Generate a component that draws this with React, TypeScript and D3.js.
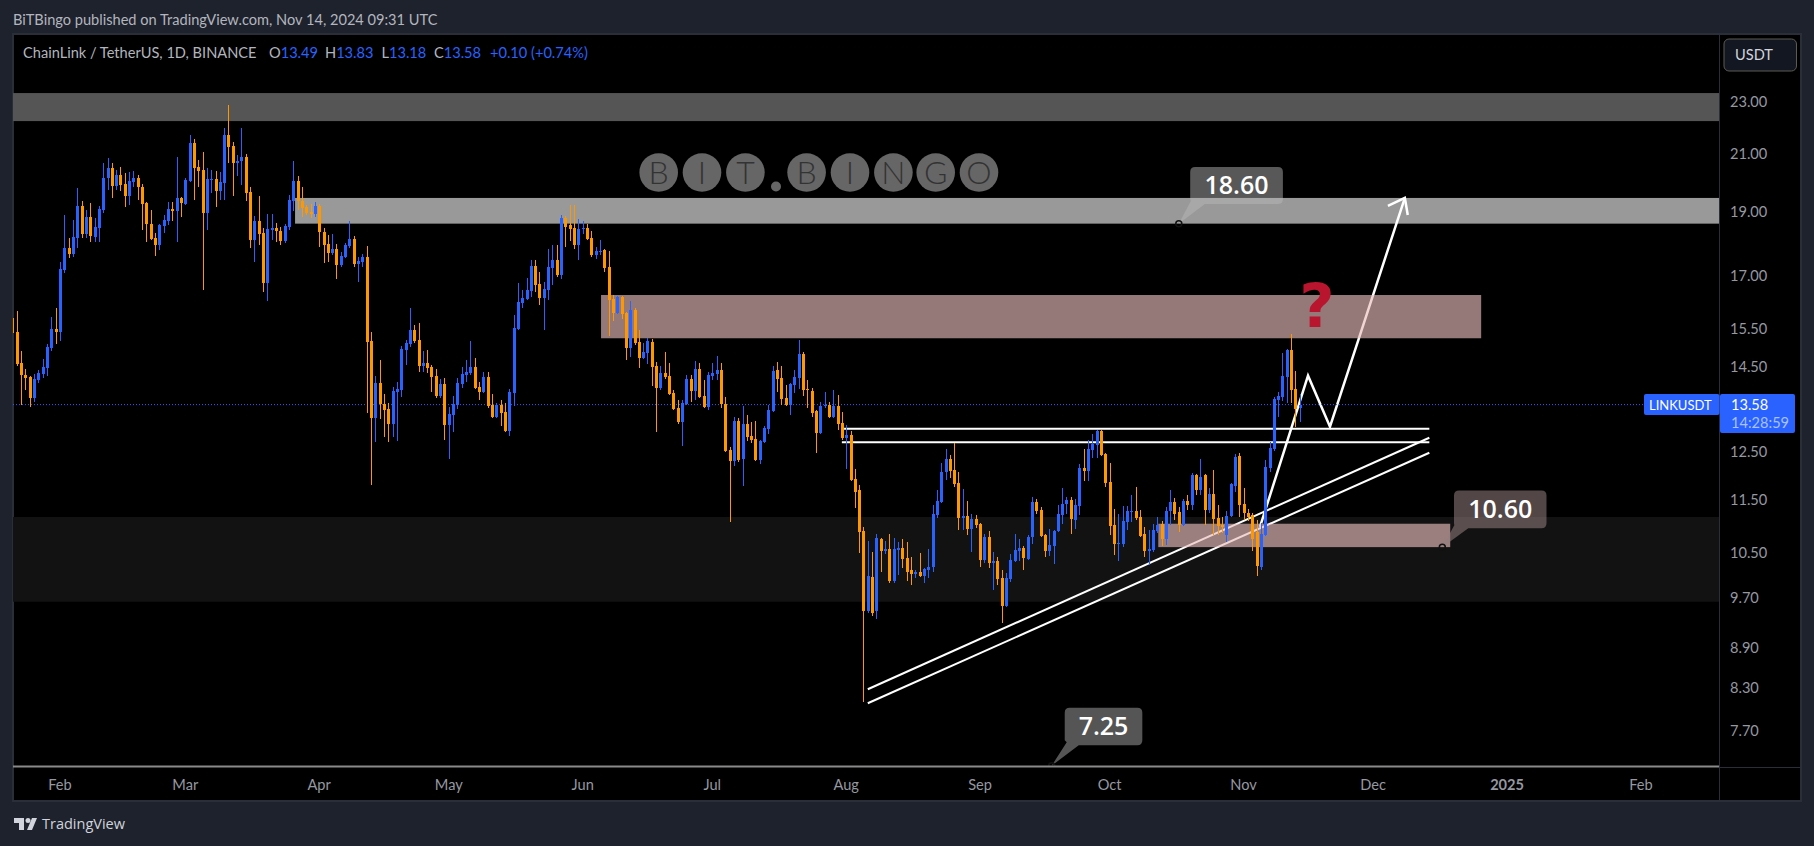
// App.tsx
// LINK/USDT daily chart (TradingView dark layout) with the drawings from the published idea.
import React from 'react';
import * as d3 from 'd3';

type Row = [number, number, number, number]; // open, high, low, close

const jan: Row[] = [
  [15.79,15.93,15.33,15.38],[15.41,15.98,14.52,14.57],[14.60,14.91,13.57,14.29],[14.29,14.45,13.93,14.22],
  [14.24,14.27,13.52,13.74],[13.74,14.32,13.64,14.19],[14.17,14.42,14.10,14.34],[14.32,14.70,14.22,14.50],
  [14.47,15.09,14.27,15.02],[14.99,15.81,14.91,15.49],[15.49,16.06,15.09,15.41],
];
const feb: Row[] = [
  [15.41,17.40,15.17,17.19],[17.16,18.87,17.07,17.83],[17.83,18.13,17.52,17.65],[17.65,18.71,17.55,18.16],
  [18.13,19.78,17.83,19.17],[19.17,19.34,18.13,18.26],[18.26,19.04,18.13,18.81],[18.81,19.27,18.01,18.20],
  [18.16,18.77,18.01,18.48],[18.45,19.17,18.01,19.07],[19.04,20.66,18.94,20.13],[20.13,20.84,19.71,20.48],
  [20.48,20.66,19.44,19.85],[19.85,20.41,19.71,20.23],[20.23,20.52,19.68,19.88],[19.92,20.30,19.14,19.51],
  [19.51,20.34,19.20,20.03],[19.99,20.37,19.81,20.13],[20.13,20.23,19.37,19.81],[19.81,19.92,18.39,19.24],
  [19.27,19.30,18.01,18.58],[18.58,19.04,18.07,18.10],[18.13,18.29,17.58,17.92],[17.92,18.58,17.77,18.55],
  [18.52,18.87,18.29,18.71],[18.68,19.30,18.55,19.07],[19.07,19.30,18.68,19.01],[19.01,20.87,18.01,19.44],
  [19.44,19.47,18.81,19.27],
];
const mar: Row[] = [
  [19.24,20.13,19.21,20.06],[20.03,21.69,19.99,21.39],[21.39,21.54,19.37,20.48],[20.52,20.77,19.81,20.37],
  [20.41,21.06,16.57,18.94],[18.94,20.48,18.39,20.10],[20.06,20.41,19.61,20.10],[20.10,20.37,19.14,19.68],
  [19.68,20.34,19.37,19.99],[19.95,21.96,19.37,21.69],[21.69,22.86,20.66,21.24],[21.28,21.43,19.51,20.66],
  [20.66,20.95,20.20,20.73],[20.73,21.96,19.88,20.87],[20.87,20.99,19.34,19.61],[19.64,19.81,17.83,18.07],
  [18.07,18.84,17.40,18.68],[18.68,19.51,17.92,18.26],[18.29,18.45,16.51,16.77],[16.77,18.90,16.26,18.42],
  [18.39,18.90,18.07,18.45],[18.45,18.62,18.01,18.36],[18.36,18.48,17.92,18.04],[18.04,18.58,17.98,18.52],
  [18.48,19.54,18.39,19.37],[19.34,20.73,19.01,20.03],[20.03,20.20,19.04,19.34],[19.34,19.81,18.81,19.11],
  [19.14,19.20,18.87,18.94],[18.97,19.24,18.77,18.90],[18.90,19.30,18.81,19.17],
];
const apr: Row[] = [
  [19.17,19.24,17.86,18.32],[18.32,18.45,17.37,17.92],[17.95,18.23,17.40,17.68],[17.68,18.26,17.62,17.80],
  [17.80,17.95,16.89,17.31],[17.31,17.71,17.25,17.58],[17.55,17.98,17.52,17.92],[17.89,18.68,17.83,18.10],
  [18.10,18.20,17.25,17.34],[17.34,17.55,16.80,17.43],[17.40,17.65,17.25,17.55],[17.55,17.89,13.38,15.15],
  [15.17,15.41,11.81,13.27],[13.27,14.27,12.72,14.10],[14.10,14.67,13.24,13.59],[13.59,13.83,12.84,13.45],
  [13.48,13.62,12.72,13.13],[13.13,14.00,12.84,13.90],[13.88,14.12,12.75,13.95],[13.93,15.04,13.76,14.96],
  [14.94,15.20,14.55,15.12],[15.09,16.06,15.02,15.46],[15.46,15.60,15.12,15.17],[15.20,15.65,14.37,14.52],
  [14.52,14.91,14.37,14.60],[14.60,14.94,14.34,14.47],[14.50,14.55,13.88,14.24],[14.27,14.45,13.74,13.78],
  [13.78,14.19,13.74,14.07],[14.07,14.22,12.77,13.11],
];
const may: Row[] = [
  [13.11,13.52,12.35,13.36],[13.34,13.78,12.95,13.59],[13.57,14.22,13.48,14.10],[14.07,14.50,13.98,14.32],
  [14.29,14.67,14.12,14.37],[14.34,15.17,14.29,14.50],[14.50,14.73,13.95,13.98],[14.00,14.12,13.69,13.88],
  [13.88,14.37,13.86,14.24],[14.24,14.37,13.50,13.55],[13.57,13.83,13.27,13.29],[13.29,13.62,13.27,13.57],
  [13.57,13.69,13.08,13.38],[13.41,13.62,12.95,12.97],[12.97,13.95,12.86,13.88],[13.86,15.87,13.55,15.52],
  [15.49,16.77,15.46,16.23],[16.20,16.57,16.06,16.34],[16.31,16.92,16.28,16.57],[16.54,17.46,16.37,17.28],
  [17.28,17.46,16.51,16.71],[16.74,17.10,16.14,16.34],[16.34,16.80,15.46,16.60],[16.57,17.80,16.28,17.25],
  [17.22,17.92,16.71,17.46],[17.46,17.92,16.95,17.01],[17.01,18.87,16.89,18.77],[18.77,18.84,17.86,18.48],
  [18.55,19.20,18.04,18.42],[18.45,19.20,17.80,17.92],[17.92,18.74,17.46,18.42],
];
const jun: Row[] = [
  [18.42,18.68,18.26,18.45],[18.45,18.58,18.07,18.10],[18.13,18.36,17.55,17.62],[17.62,17.86,17.49,17.74],
  [17.71,18.07,17.62,17.74],[17.77,17.80,17.10,17.22],[17.25,17.74,15.31,16.28],[16.31,16.43,15.70,15.92],
  [15.92,16.40,15.90,16.37],[16.37,16.40,15.76,15.90],[15.92,15.95,14.67,14.99],[14.99,16.26,14.75,16.01],
  [16.01,16.06,15.07,15.12],[15.15,15.46,14.47,14.73],[14.73,15.12,14.70,14.88],[14.86,15.25,14.57,15.17],
  [15.15,15.22,14.02,14.50],[14.52,14.62,12.95,13.98],[13.98,14.52,13.93,14.34],[14.34,14.88,14.19,14.24],
  [14.27,14.60,13.81,13.83],[13.86,13.93,13.45,13.48],[13.50,13.69,13.13,13.18],[13.18,13.69,12.64,13.62],
  [13.59,14.29,13.57,14.19],[14.19,14.29,13.64,13.90],[13.90,14.65,13.69,14.45],[14.45,14.60,13.74,13.76],
  [13.78,14.17,13.50,13.52],[13.52,14.37,13.45,14.29],
];
const jul: Row[] = [
  [14.27,14.60,14.17,14.34],[14.32,14.78,14.17,14.42],[14.42,14.60,13.50,13.59],[13.59,13.76,12.51,12.53],
  [12.55,12.62,11.07,12.31],[12.31,13.29,12.20,13.20],[13.20,13.27,12.29,12.33],[12.35,13.55,11.79,13.13],
  [13.13,13.34,12.75,12.84],[12.86,13.18,12.71,12.77],[12.79,13.20,12.31,12.33],[12.33,12.77,12.24,12.75],
  [12.72,13.08,12.71,13.04],[13.01,13.57,12.90,13.45],[13.43,14.52,13.41,14.39],[14.42,14.62,13.88,14.19],
  [14.22,14.52,13.57,13.71],[13.74,14.05,13.55,13.57],[13.57,14.09,13.34,14.07],[14.05,14.42,13.86,14.24],
  [14.22,15.20,13.95,14.83],[14.83,14.88,13.78,13.93],[13.95,14.17,13.50,13.93],[13.90,13.98,13.29,13.38],
  [13.43,13.45,12.48,12.92],[12.92,13.64,12.90,13.55],[13.55,13.88,13.50,13.57],[13.57,13.64,13.27,13.29],
  [13.29,13.93,13.27,13.55],[13.55,13.81,12.99,13.13],[13.15,13.41,12.77,12.81],
];
const aug: Row[] = [
  [12.81,13.11,12.14,12.88],[12.88,12.97,11.89,11.91],[11.93,12.14,11.35,11.67],[11.71,11.81,10.49,10.88],
  [10.90,10.97,8.10,9.48],[9.48,10.71,9.46,10.08],[10.06,10.51,9.40,9.46],[9.48,10.84,9.36,10.77],
  [10.75,10.77,10.16,10.53],[10.53,10.71,10.47,10.57],[10.57,10.84,9.96,9.99],[9.99,10.77,9.96,10.57],
  [10.55,10.70,10.10,10.58],[10.58,10.75,10.22,10.38],[10.40,10.70,9.99,10.16],[10.18,10.42,9.92,10.11],
  [10.11,10.18,10.04,10.16],[10.16,10.49,10.06,10.08],[10.08,10.22,9.96,10.20],[10.18,10.57,10.04,10.24],
  [10.24,11.40,10.15,11.23],[11.21,11.71,11.15,11.48],[11.46,12.26,11.44,12.08],[12.08,12.57,11.91,12.35],
  [12.35,12.44,11.95,12.10],[12.12,12.71,11.77,11.83],[11.85,12.07,10.92,11.15],[11.15,11.73,10.92,11.19],
  [11.19,11.48,10.83,10.94],[10.94,11.23,10.51,11.13],[11.13,11.21,10.96,11.02],
];
const sep: Row[] = [
  [11.04,11.06,10.24,10.36],[10.36,10.84,10.31,10.79],[10.79,10.90,10.22,10.31],[10.31,10.51,9.84,10.35],
  [10.35,10.42,9.92,10.03],[10.04,10.18,9.29,9.57],[9.57,10.13,9.55,10.04],[10.03,10.47,9.98,10.36],
  [10.35,10.84,10.33,10.55],[10.53,10.75,10.35,10.58],[10.58,10.62,10.18,10.40],[10.38,10.83,10.36,10.79],
  [10.79,11.56,10.66,11.46],[11.46,11.52,11.23,11.29],[11.31,11.36,10.79,10.81],[10.83,10.84,10.42,10.53],
  [10.53,10.94,10.44,10.64],[10.62,10.92,10.29,10.90],[10.90,11.40,10.88,11.23],[11.21,11.75,11.04,11.42],
  [11.42,11.56,11.23,11.50],[11.50,11.56,10.84,11.13],[11.11,11.52,10.94,11.40],[11.38,12.24,11.21,12.16],
  [12.16,12.57,11.89,12.10],[12.10,12.77,11.89,12.57],[12.55,12.90,12.37,12.68],[12.66,12.99,12.37,12.97],
  [12.97,12.99,12.42,12.44],[12.46,12.48,11.77,11.85],
];
const oct: Row[] = [
  [11.87,12.27,10.83,11.00],[11.02,11.33,10.46,10.66],[10.66,11.23,10.35,10.68],[10.66,11.38,10.60,11.09],
  [11.07,11.38,10.92,11.29],[11.27,11.60,11.07,11.29],[11.29,11.77,11.11,11.15],[11.17,11.31,10.79,10.81],
  [10.84,10.97,10.42,10.53],[10.53,10.92,10.27,10.57],[10.55,11.04,10.51,10.92],[10.90,11.17,10.87,11.02],
  [11.04,11.09,10.62,10.75],[10.75,11.36,10.64,11.29],[11.29,11.71,11.02,11.46],[11.46,11.54,11.11,11.23],
  [11.27,11.36,10.88,11.02],[11.02,11.52,11.00,11.48],[11.48,11.60,11.31,11.40],[11.40,12.05,11.31,12.01],
  [12.01,12.03,11.60,11.71],[11.71,12.35,11.60,11.97],[12.01,12.03,11.02,11.31],[11.31,11.75,11.25,11.62],
  [11.62,12.12,10.83,11.13],[11.15,11.40,10.83,11.00],[11.02,11.17,10.87,10.97],[10.83,11.29,10.70,11.19],
  [11.19,11.85,11.17,11.83],[11.79,12.46,11.67,12.39],[12.42,12.48,11.17,11.40],
];
const nov: Row[] = [
  [11.42,11.75,11.11,11.25],[11.25,11.33,11.09,11.17],[11.21,11.25,10.53,10.75],[10.88,11.11,10.08,10.26],
  [10.24,11.06,10.18,10.84],[10.83,12.33,10.81,12.18],[12.16,12.72,12.07,12.59],[12.57,13.76,12.53,13.71],
  [13.69,13.88,13.29,13.78],[13.76,14.86,13.66,14.27],[14.24,14.96,13.62,14.94],[14.94,15.36,13.62,13.93],
  [13.95,14.39,13.06,13.48],[13.49,13.83,13.18,13.58],
];

const firstDay = new Date('2024-01-21T00:00:00Z');
const lastPrice = 13.58;

const priceTicks = [23, 21, 19, 17, 15.5, 14.5, 12.5, 11.5, 10.5, 9.7, 8.9, 8.3, 7.7];
const timeTicks = ['2024-02-01', '2024-03-01', '2024-04-01', '2024-05-01', '2024-06-01', '2024-07-01', '2024-08-01', '2024-09-01', '2024-10-01', '2024-11-01', '2024-12-01', '2025-01-01', '2025-02-01'];
const timeLabels = ['Feb', 'Mar', 'Apr', 'May', 'Jun', 'Jul', 'Aug', 'Sep', 'Oct', 'Nov', 'Dec', '2025', 'Feb'];

// drawn zones: upper and lower price, with their start and end where they have one
const bandDark: [number, number] = [11.17, 9.64];
const bandTop: [number, number] = [23.34, 22.23];
const zoneGray: [string, number, number] = ['2024-03-26T10:00', 19.45, 18.6];
const zoneUpper: [string, string, number, number] = ['2024-06-05T06:00', '2024-12-26', 16.43, 15.24];
const zoneLower: [string, string, number, number] = ['2024-10-12T06:00', '2024-12-18T20:00', 11.04, 10.6];

type Pt = [string, number];
const resistanceTop: Pt[] = [['2024-07-31T12:00', 13.02], ['2024-12-14', 13.02]];
const resistanceLow: Pt[] = [['2024-07-31', 12.72], ['2024-12-14', 12.72]];
const trendTop: Pt[] = [['2024-08-06', 8.28], ['2024-12-14', 12.82]];
const trendLow: Pt[] = [['2024-08-06', 8.08], ['2024-12-14', 12.49]];
const projection: Pt[] = [['2024-11-04T19:00', 10.98], ['2024-11-15T22:00', 14.28], ['2024-11-21', 13.07], ['2024-12-08T08:00', 19.45]];
const projectionHead: Pt[] = [['2024-12-04T10:00', 19.18], ['2024-12-08T08:00', 19.45], ['2024-12-09', 18.88]];

const watermark = ['B', 'I', 'T', '.', 'B', 'I', 'N', 'G', 'O'];

const FONT = "Lato, 'Open Sans', sans-serif";
const LABEL_FONT = "'Open Sans', 'Noto Sans', sans-serif";
const UP = '#2962ff';
const DOWN = '#ff9800';
const BORDER = '#2a2e39';

const candles = [jan, feb, mar, apr, may, jun, jul, aug, sep, oct, nov].flat().map((r, i) => ({
  date: d3.utcDay.offset(firstDay, i),
  open: r[0],
  high: r[1],
  low: r[2],
  close: r[3],
}));

const parse = (s: string) => new Date(s.length > 10 ? s + ':00Z' : s + 'T00:00:00Z');

const xScale = d3.scaleUtc().domain([parse('2024-02-01'), parse('2025-02-01')]).range([60, 1641]);
const yScale = d3.scaleLog().domain([23, 7.7]).range([101.5, 731]);

const pointLine = d3.line<Pt>().x((d) => xScale(parse(d[0]))).y((d) => yScale(d[1]));

const PLOT = { left: 13, right: 1719, top: 34, bottom: 767 };

const Bubble: React.FC<{ date: string; price: number; text: string; fill: string; dx: number; w: number; top: number; h: number; tail: [number, number] }> = ({ date, price, text, fill, dx, w, top, h, tail }) => {
  const ax = xScale(parse(date));
  const ay = yScale(price);
  const x0 = ax + dx;
  const y0 = ay + top;
  const r = 5;
  const p = d3.path();
  p.moveTo(x0 + r, y0);
  p.lineTo(x0 + w - r, y0);
  p.quadraticCurveTo(x0 + w, y0, x0 + w, y0 + r);
  p.lineTo(x0 + w, y0 + h - r);
  p.quadraticCurveTo(x0 + w, y0 + h, x0 + w - r, y0 + h);
  p.lineTo(ax + tail[1], y0 + h);
  p.lineTo(ax, ay);
  p.lineTo(ax + tail[0], y0 + h - 3);
  p.lineTo(x0, y0 + h - r);
  p.lineTo(x0, y0 + r);
  p.quadraticCurveTo(x0, y0, x0 + r, y0);
  p.closePath();
  return (
    <g>
      <path d={p.toString()} fill={fill} />
      <circle cx={ax} cy={ay} r={3} fill="none" stroke="#111" strokeWidth={1.5} />
      <text x={x0 + w / 2} y={y0 + h / 2} dy="0.35em" textAnchor="middle" fontFamily={LABEL_FONT} fontWeight={600} fontSize={25} fill="#fff">
        {text}
      </text>
    </g>
  );
};

export default function App() {
  const right = PLOT.right;
  const lastY = yScale(lastPrice);
  const circleX = [658.7, 702, 745.4, 776, 806.6, 850, 893.4, 935.7, 979];

  return (
    <svg width={1814} height={846} style={{ position: 'absolute', left: 0, top: 0, display: 'block' }} fontFamily={FONT}>
      <rect width={1814} height={846} fill="#1e222d" />
      <rect x={PLOT.left} y={PLOT.top} width={1801 - PLOT.left} height={801 - PLOT.top} fill="#000" stroke={BORDER} strokeWidth={2} />

      <defs>
        <clipPath id="pane">
          <rect x={PLOT.left} y={PLOT.top} width={right - PLOT.left} height={PLOT.bottom - PLOT.top} />
        </clipPath>
      </defs>

      <text x={13} y={20} dy="0.35em" fontSize={14.6} fill="#b2b5be">BiTBingo published on TradingView.com, Nov 14, 2024 09:31 UTC</text>

      <g clipPath="url(#pane)">
        <rect x={PLOT.left} y={yScale(bandDark[0])} width={right - PLOT.left} height={yScale(bandDark[1]) - yScale(bandDark[0])} fill="#121212" />
        <rect x={PLOT.left} y={yScale(bandTop[0])} width={right - PLOT.left} height={yScale(bandTop[1]) - yScale(bandTop[0])} fill="#555555" />
        <rect x={xScale(parse(zoneGray[0]))} y={yScale(zoneGray[1])} width={right - xScale(parse(zoneGray[0]))} height={yScale(zoneGray[2]) - yScale(zoneGray[1])} fill="#999999" />

        {/* watermark */}
        {watermark.map((ch, i) =>
          ch === '.' ? (
            <circle key={i} cx={circleX[i]} cy={186.5} r={5} fill="#666" />
          ) : (
            <g key={i}>
              <circle cx={circleX[i]} cy={172.5} r={19.3} fill="#666" />
              <text x={circleX[i]} y={172.5} dy="0.36em" textAnchor="middle" fontFamily="Lato, sans-serif" fontWeight={300} fontSize={32} fill="#333">{ch}</text>
            </g>
          ),
        )}

        {/* white drawings sit under the tinted zones */}
        {[resistanceTop, resistanceLow, trendTop, trendLow].map((pts, i) => (
          <path key={i} d={pointLine(pts) || ''} fill="none" stroke="#fff" strokeWidth={2} />
        ))}
        <path d={pointLine(projection) || ''} fill="none" stroke="#fff" strokeWidth={2.5} strokeLinejoin="miter" />
        <path d={pointLine(projectionHead) || ''} fill="none" stroke="#fff" strokeWidth={2.5} />

        {[zoneUpper, zoneLower].map((z, i) => (
          <rect
            key={i}
            x={xScale(parse(z[0]))}
            y={yScale(z[2])}
            width={xScale(parse(z[1])) - xScale(parse(z[0]))}
            height={yScale(z[3]) - yScale(z[2])}
            fill="rgb(233,190,190)"
            fillOpacity={0.64}
          />
        ))}

        <line x1={PLOT.left} x2={1644} y1={lastY} y2={lastY} stroke={UP} strokeWidth={1} strokeDasharray="1 2" />

        {candles.map((c, i) => {
          const x = Math.round(xScale(c.date));
          const color = c.close >= c.open ? UP : DOWN;
          const top = Math.round(yScale(Math.max(c.open, c.close)));
          const bottom = Math.round(yScale(Math.min(c.open, c.close)));
          const wickTop = Math.round(yScale(c.high));
          const wickBottom = Math.round(yScale(c.low));
          return (
            <g key={i} shapeRendering="crispEdges">
              <rect x={x} width={1} y={wickTop} height={wickBottom - wickTop} fill={color} />
              <rect x={x - 1} width={3} y={top} height={Math.max(1, bottom - top)} fill={color} />
            </g>
          );
        })}

        <text x={1317} y={327} textAnchor="middle" fontFamily="'DejaVu Sans', sans-serif" fontWeight={700} fontSize={61} fill="#b9152f">?</text>

        <Bubble date="2024-10-17" price={18.6} text="18.60" fill="rgba(183,183,183,0.48)" dx={11.4} w={92.7} top={-56.7} h={37} tail={[12, 26]} />
        <Bubble date="2024-12-17" price={10.6} text="10.60" fill="rgba(150,128,128,0.55)" dx={11.7} w={92.5} top={-56.7} h={37.7} tail={[12, 26]} />
        <Bubble date="2024-09-17T14:00" price={7.25} text="7.25" fill="#555555" dx={13} w={77.6} top={-58} h={37.7} tail={[15, 27]} />
      </g>

      {/* bottom edge drawn from the pane, axis separators */}
      <line x1={PLOT.left} x2={right} y1={766.5} y2={766.5} stroke="#8a8a8a" strokeWidth={2} />
      <line x1={right + 0.5} x2={right + 0.5} y1={PLOT.top} y2={801} stroke={BORDER} strokeWidth={1} />
      <line x1={right} x2={1801} y1={767.5} y2={767.5} stroke={BORDER} strokeWidth={1} />

      {/* legend */}
      <text x={23} y={53} dy="0.35em" fontSize={14.6} fill="#b2b5be">
        <tspan>ChainLink / TetherUS, 1D, BINANCE</tspan>
        <tspan x={269}>O</tspan><tspan fill={UP}>13.49</tspan>
        <tspan x={325}>H</tspan><tspan fill={UP}>13.83</tspan>
        <tspan x={381.5}>L</tspan><tspan fill={UP}>13.18</tspan>
        <tspan x={434}>C</tspan><tspan fill={UP}>13.58</tspan>
        <tspan x={490} fill={UP}>+0.10 (+0.74%)</tspan>
      </text>

      {/* price axis */}
      {priceTicks.map((t) => (
        <text key={t} x={1730} y={yScale(t)} dy="0.35em" fontSize={14.6} fill="#9598a1">{t.toFixed(2)}</text>
      ))}
      <rect x={1724} y={39} width={72.5} height={32} rx={5} fill="#131722" stroke="#5d5a52" />
      <text x={1735} y={55} dy="0.35em" fontSize={14.6} fill="#d1d4dc">USDT</text>

      <rect x={1644} y={394} width={75.5} height={21} rx={2} fill={UP} />
      <text x={1649} y={405} dy="0.35em" fontSize={13} fill="#fff">LINKUSDT</text>
      <rect x={1720} y={394} width={75} height={39} rx={2} fill={UP} />
      <text x={1731} y={405} dy="0.35em" fontSize={14.6} fill="#fff">{lastPrice.toFixed(2)}</text>
      <text x={1731} y={423} dy="0.35em" fontSize={14.6} fill="#a9c1ff">14:28:59</text>

      {/* time axis */}
      {timeTicks.map((t, i) => (
        <text
          key={i}
          x={xScale(parse(t))}
          y={785}
          dy="0.35em"
          textAnchor="middle"
          fontSize={14.6}
          fontWeight={timeLabels[i] === '2025' ? 700 : 400}
          fill="#9598a1"
        >
          {timeLabels[i]}
        </text>
      ))}

      {/* footer logo */}
      <path d="M14 818h10v12h-5v-7h-5z M37 818l-5 12h-5l5-12z" fill="#d1d4dc" />
      <circle cx={28} cy={820.5} r={2.5} fill="#d1d4dc" />
      <text x={42} y={824} dy="0.35em" fontFamily={LABEL_FONT} fontSize={14.5} fontWeight={500} fill="#d1d4dc">TradingView</text>
    </svg>
  );
}
